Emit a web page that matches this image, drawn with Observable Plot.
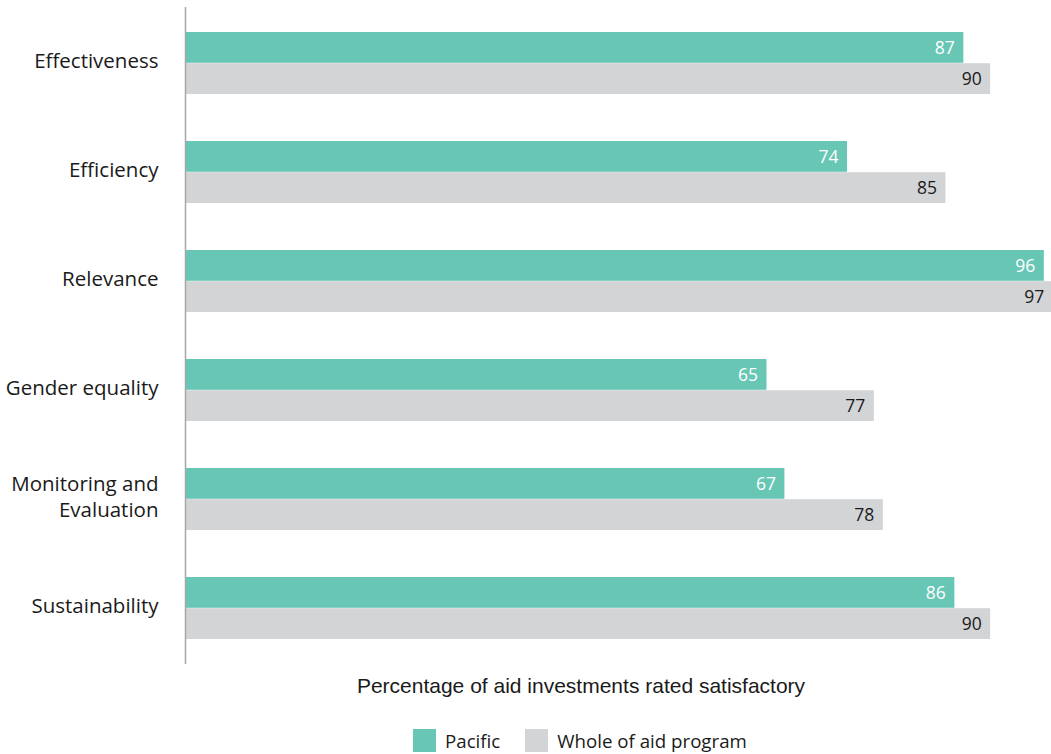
<!DOCTYPE html>
<html>
<head>
<meta charset="utf-8">
<script src="https://cdn.jsdelivr.net/npm/d3@7"></script>
<script src="https://cdn.jsdelivr.net/npm/@observablehq/plot@0.6"></script>
<style>
  body { margin: 0; background: #fff; }
  #wrap { position: relative; width: 1051px; height: 754px; font-family: "Open Sans", sans-serif; color: #1a1a1a; }
  #xlabel { position: absolute; top: 674px; left: 581px; transform: translateX(-50%); white-space: nowrap;
            font-family: "Liberation Sans", Arial, sans-serif; font-size: 21px; color: #1a1a1a; }
  #legend { position: absolute; top: 728px; left: 413px; display: flex; align-items: center; font-size: 18.7px; }
  .item { display: flex; align-items: center; margin-right: 25px; }
  .sw { width: 23px; height: 23px; margin-right: 9px; }
</style>
</head>
<body>
<div id="wrap">
  <div id="chart"></div>
  <div id="xlabel"></div>
  <div id="legend"></div>
</div>
<script>
const categories = ["Effectiveness", "Efficiency", "Relevance", "Gender equality", "Monitoring and Evaluation", "Sustainability"];
const categoryLabels = ["Effectiveness", "Efficiency", "Relevance", "Gender equality", "Monitoring and\nEvaluation", "Sustainability"];
const pacific = [87, 74, 96, 65, 67, 86];
const wholeOfAid = [90, 85, 97, 77, 78, 90];
const seriesNames = ["Pacific", "Whole of aid program"];
const seriesColors = ["#68c6b5", "#d3d4d6"];
const xTitle = "Percentage of aid investments rated satisfactory";

const pacRows = categories.map((c, i) => ({category: c, value: pacific[i]}));
const wholeRows = categories.map((c, i) => ({category: c, value: wholeOfAid[i]}));
const labelOf = new Map(categories.map((c, i) => [c, categoryLabels[i]]));

const half = 31.2;

const chart = Plot.plot({
  width: 1051,
  height: 664,
  marginTop: 7,
  marginBottom: 0,
  marginLeft: 185,
  marginRight: 0,
  style: {fontFamily: "Open Sans, sans-serif", color: "#1a1a1a", background: "#fff"},
  x: {domain: [0, 96.8], axis: null},
  y: {domain: categories, paddingInner: 0.43, paddingOuter: 0.214, axis: null},
  marks: [
    Plot.barX(pacRows, {x: "value", y: "category", fill: seriesColors[0], insetBottom: half}),
    Plot.barX(wholeRows, {x: "value", y: "category", fill: seriesColors[1], insetTop: half}),
    Plot.text(pacRows, {x: "value", y: "category", text: d => String(d.value), textAnchor: "end", dx: -9, dy: -half / 2, fill: "#fff", fontSize: 17.5}),
    Plot.text(wholeRows, {x: "value", y: "category", text: d => String(d.value), textAnchor: "end", dx: -9, dy: half / 2, fill: "#1a1a1a", fontSize: 17.5}),
    Plot.axisY({tickSize: 0, tickPadding: 27, fontSize: 20.5, lineHeight: 1.3, dy: -4, label: null, tickFormat: d => labelOf.get(d)}),
    Plot.ruleX([0], {stroke: "#a7a7a9", strokeWidth: 1.5})
  ]
});
document.getElementById("chart").appendChild(chart);
document.getElementById("xlabel").textContent = xTitle;

const legend = document.getElementById("legend");
seriesNames.forEach((name, i) => {
  const item = document.createElement("div");
  item.className = "item";
  const sw = document.createElement("div");
  sw.className = "sw";
  sw.style.background = seriesColors[i];
  const t = document.createElement("span");
  t.textContent = name;
  item.appendChild(sw);
  item.appendChild(t);
  legend.appendChild(item);
});
</script>
</body>
</html>
